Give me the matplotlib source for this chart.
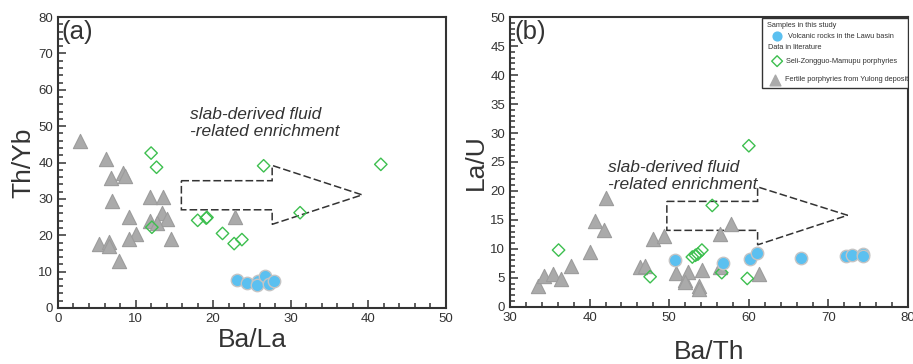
import matplotlib
matplotlib.use("Agg")
import matplotlib.pyplot as plt
from matplotlib.patches import Polygon, Rectangle
from matplotlib.ticker import MultipleLocator

plt.rcParams['font.family'] = ['Liberation Sans', 'DejaVu Sans']

# ---- panel (a): Ba/La vs Th/Yb ----
a_yulong_x = [2.9, 6.2, 6.8, 8.4, 8.7, 7.0, 11.8, 13.5, 9.2, 13.4, 14.0, 11.8, 12.7,
              22.8, 10.1, 9.2, 14.6, 5.3, 6.6, 6.6, 7.8]
a_yulong_y = [45.8, 41.0, 35.7, 37.1, 36.3, 29.4, 30.4, 30.4, 25.0, 26.1, 24.4, 23.8, 23.3,
              25.1, 20.4, 19.0, 19.0, 17.5, 18.1, 17.1, 13.0]
a_seli_x = [12.0, 12.7, 26.5, 41.6, 31.2, 18.0, 19.1, 19.2, 12.1, 21.2, 22.7, 23.7]
a_seli_y = [42.6, 38.7, 39.1, 39.5, 26.2, 24.1, 24.7, 24.9, 22.2, 20.5, 17.7, 18.8]
a_lawu_x = [23.1, 24.4, 25.8, 25.7, 26.7, 27.2, 27.8]
a_lawu_y = [7.7, 6.9, 7.5, 6.2, 8.7, 6.7, 7.5]
# dashed arrow outline (data units)
a_arrow_x = [15.9, 27.6, 27.6, 39.2, 27.6, 27.6, 15.9]
a_arrow_y = [35.0, 35.0, 39.2, 31.1, 23.0, 27.0, 27.0]

# ---- panel (b): Ba/Th vs La/U ----
b_yulong_x = [33.5, 34.3, 35.4, 36.4, 37.7, 40.0, 40.7, 41.8, 42.0, 46.3, 47.0, 48.0,
              49.3, 50.8, 52.0, 52.3, 52.0, 53.8, 53.8, 54.1, 56.4, 57.7, 56.4, 61.3]
b_yulong_y = [3.6, 5.3, 5.7, 4.8, 7.1, 9.5, 14.9, 13.3, 18.7, 6.8, 7.0, 11.7,
              12.3, 5.9, 4.7, 6.0, 4.3, 3.6, 3.0, 6.4, 12.6, 14.3, 6.8, 5.7]
b_seli_x = [36.1, 47.6, 52.9, 53.3, 53.6, 54.1, 55.4, 56.6, 59.8, 60.0]
b_seli_y = [9.8, 5.2, 8.6, 8.9, 9.1, 9.8, 17.5, 5.9, 4.9, 27.8]
b_lawu_x = [50.7, 56.7, 60.1, 61.0, 66.5, 72.2, 73.0, 74.4, 74.4]
b_lawu_y = [8.0, 7.5, 8.3, 9.3, 8.4, 8.7, 8.9, 9.2, 8.7]
b_arrow_x = [49.7, 61.1, 61.1, 72.4, 61.1, 61.1, 49.7]
b_arrow_y = [18.2, 18.2, 20.7, 15.8, 10.7, 13.2, 13.2]

BLUE = '#5bc0f0'
GREEN = '#3dbf4f'
GRAY = '#aaaaaa'
DARK = '#333333'


def draw_panel(ax, yul_x, yul_y, seli_x, seli_y, lawu_x, lawu_y, arr_x, arr_y):
    ax.scatter(yul_x, yul_y, marker='^', s=105, color=GRAY, edgecolor='#9c9c9c',
               linewidth=0.8, zorder=3)
    ax.scatter(seli_x, seli_y, marker='D', s=40, facecolor='none', edgecolor=GREEN,
               linewidth=1.0, zorder=4)
    ax.scatter(lawu_x, lawu_y, marker='o', s=80, color=BLUE, edgecolor='#c4c4c4',
               linewidth=1.0, zorder=5)
    ax.add_patch(Polygon(list(zip(arr_x, arr_y)), closed=True, fill=False,
                         edgecolor=DARK, linestyle=(0, (5, 2)), linewidth=1.1, zorder=2))
    for s in ax.spines.values():
        s.set_color(DARK)
        s.set_linewidth(1.5)
    ax.tick_params(which='both', direction='in', colors=DARK, labelsize=9.5,
                   width=1.1, labelcolor=DARK)
    ax.tick_params(which='major', length=6)
    ax.tick_params(which='minor', length=3.5)


fig = plt.figure(figsize=(9.13, 3.64), dpi=100)
ax1 = fig.add_axes([0.0635, 0.154, 0.425, 0.799])
ax2 = fig.add_axes([0.5586, 0.157, 0.436, 0.796])

draw_panel(ax1, a_yulong_x, a_yulong_y, a_seli_x, a_seli_y, a_lawu_x, a_lawu_y,
           a_arrow_x, a_arrow_y)
ax1.set_xlim(0, 50)
ax1.set_ylim(0, 80)
ax1.xaxis.set_major_locator(MultipleLocator(10))
ax1.xaxis.set_minor_locator(MultipleLocator(2))
ax1.yaxis.set_major_locator(MultipleLocator(10))
ax1.yaxis.set_minor_locator(MultipleLocator(2))
ax1.set_xlabel('Ba/La', fontsize=19, color=DARK, labelpad=2)
ax1.set_ylabel('Th/Yb', fontsize=19, color=DARK, labelpad=2)
ax1.text(0.01, 0.99, '(a)', transform=ax1.transAxes, fontsize=18.5, color=DARK,
         va='top', ha='left')
ax1.text(17.0, 50.8, 'slab-derived fluid\n-related enrichment', fontsize=12.5,
         style='italic', color=DARK, linespacing=1.2, va='center')

draw_panel(ax2, b_yulong_x, b_yulong_y, b_seli_x, b_seli_y, b_lawu_x, b_lawu_y,
           b_arrow_x, b_arrow_y)
ax2.set_xlim(30, 80)
ax2.set_ylim(0, 50)
ax2.xaxis.set_major_locator(MultipleLocator(10))
ax2.xaxis.set_minor_locator(MultipleLocator(2))
ax2.yaxis.set_major_locator(MultipleLocator(5))
ax2.yaxis.set_minor_locator(MultipleLocator(1))
ax2.set_xlabel('Ba/Th', fontsize=19, color=DARK, labelpad=12)
ax2.set_ylabel('La/U', fontsize=19, color=DARK, labelpad=2)
ax2.text(0.01, 0.99, '(b)', transform=ax2.transAxes, fontsize=18.5, color=DARK,
         va='top', ha='left')
ax2.text(42.3, 22.6, 'slab-derived fluid\n-related enrichment', fontsize=12.5,
         style='italic', color=DARK, linespacing=1.2, va='center')

# hand-built legend box (headers sit left of the markers)
tr = ax2.transAxes
ax2.add_patch(Rectangle((0.633, 0.755), 0.367, 0.243, transform=tr, facecolor='white',
                        edgecolor=DARK, linewidth=1.0, zorder=6))
lfs = 5.3
ax2.text(0.646, 0.972, 'Samples in this study', transform=tr, fontsize=lfs, color=DARK,
         va='center', zorder=7)
ax2.scatter([0.671], [0.934], transform=tr, marker='o', s=40, color=BLUE, zorder=7,
            clip_on=False)
ax2.text(0.698, 0.934, 'Volcanic rocks in the Lawu basin', transform=tr, fontsize=lfs,
         color=DARK, va='center', zorder=7)
ax2.text(0.648, 0.896, 'Data in literature', transform=tr, fontsize=lfs, color=DARK,
         va='center', zorder=7)
ax2.scatter([0.671], [0.848], transform=tr, marker='D', s=30, facecolor='none',
            edgecolor=GREEN, linewidth=1.0, zorder=7, clip_on=False)
ax2.text(0.693, 0.848, 'Seli-Zongguo-Mamupu porphyries', transform=tr, fontsize=lfs,
         color=DARK, va='center', zorder=7)
ax2.scatter([0.666], [0.783], transform=tr, marker='^', s=60, color=GRAY, zorder=7,
            clip_on=False)
ax2.text(0.691, 0.783, 'Fertile porphyries from Yulong deposit', transform=tr,
         fontsize=lfs, color=DARK, va='center', zorder=7)

fig.savefig('out.png', dpi=100)
